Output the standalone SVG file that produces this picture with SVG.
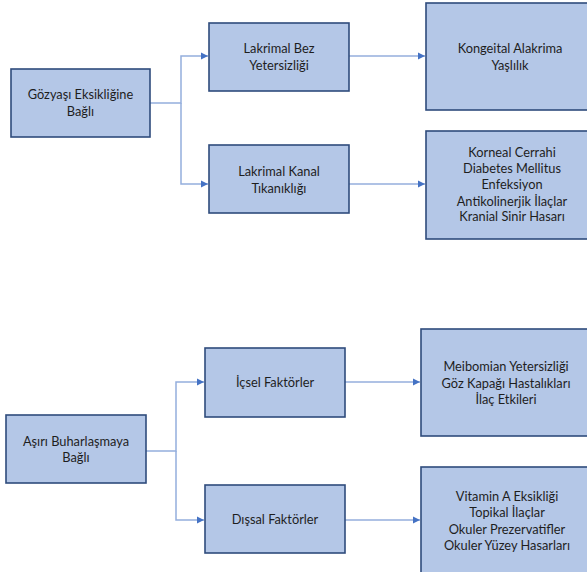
<svg xmlns="http://www.w3.org/2000/svg" width="587" height="572" viewBox="0 0 587 572">
  <style>
    .box { fill: #B4C7E7; stroke: #2F4B7C; stroke-width: 1.6; }
    .lbl { font-family: Lato, "Open Sans", "Liberation Sans", sans-serif; font-size: 12.8px; fill: #1E1E1E; text-anchor: middle; }
    .link { fill: none; stroke: #94AEDD; stroke-width: 1.5; }
  </style>
  <defs>
    <marker id="arrow" markerWidth="8" markerHeight="8" refX="7" refY="4" orient="auto" markerUnits="userSpaceOnUse">
      <path d="M0,0.5 L7,4 L0,7.5 Z" fill="#4472C4"/>
    </marker>
  </defs>

  <rect width="587" height="572" fill="#FFFFFF"/>

  <!-- connectors -->
  <g id="connectors">
    <path class="link" d="M150,103 H181 V56 H208" marker-end="url(#arrow)"/>
    <path class="link" d="M181,103 V184 H208" marker-end="url(#arrow)"/>
    <path class="link" d="M349,56 H425" marker-end="url(#arrow)"/>
    <path class="link" d="M349,184 H425" marker-end="url(#arrow)"/>
    <path class="link" d="M146,451 H176 V382 H204" marker-end="url(#arrow)"/>
    <path class="link" d="M176,451 V520 H204" marker-end="url(#arrow)"/>
    <path class="link" d="M345,382 H420" marker-end="url(#arrow)"/>
    <path class="link" d="M345,520 H420" marker-end="url(#arrow)"/>
  </g>

  <!-- tear deficiency branch -->
  <g id="gozyasi">
    <rect class="box" x="11" y="69" width="139" height="68"/>
    <text class="lbl" x="80.5" y="99">Gözyaşı Eksikliğine</text>
    <text class="lbl" x="80.5" y="116">Bağlı</text>
  </g>
  <g id="lakrimal-bez">
    <rect class="box" x="209" y="23" width="140" height="68"/>
    <text class="lbl" x="279" y="53">Lakrimal Bez</text>
    <text class="lbl" x="279" y="70">Yetersizliği</text>
  </g>
  <g id="lakrimal-kanal">
    <rect class="box" x="209" y="145" width="140" height="68"/>
    <text class="lbl" x="279" y="176">Lakrimal Kanal</text>
    <text class="lbl" x="279" y="193">Tıkanıklığı</text>
  </g>
  <g id="kongeital">
    <rect class="box" x="426" y="3" width="172" height="107"/>
    <text class="lbl" x="510" y="53">Kongeital Alakrima</text>
    <text class="lbl" x="510" y="70">Yaşlılık</text>
  </g>
  <g id="korneal">
    <rect class="box" x="426" y="131" width="172" height="108"/>
    <text class="lbl" x="512" y="157">Korneal Cerrahi</text>
    <text class="lbl" x="512" y="173">Diabetes Mellitus</text>
    <text class="lbl" x="512" y="189">Enfeksiyon</text>
    <text class="lbl" x="512" y="206">Antikolinerjik İlaçlar</text>
    <text class="lbl" x="512" y="221">Kranial Sinir Hasarı</text>
  </g>

  <!-- evaporation branch -->
  <g id="asiri-buharlasma">
    <rect class="box" x="6" y="415" width="140" height="68"/>
    <text class="lbl" x="76" y="446">Aşırı Buharlaşmaya</text>
    <text class="lbl" x="76" y="462">Bağlı</text>
  </g>
  <g id="icsel">
    <rect class="box" x="205" y="348" width="140" height="69"/>
    <text class="lbl" x="275" y="387">İçsel Faktörler</text>
  </g>
  <g id="dissal">
    <rect class="box" x="205" y="485" width="140" height="68"/>
    <text class="lbl" x="275" y="524">Dışsal Faktörler</text>
  </g>
  <g id="meibomian">
    <rect class="box" x="421" y="329" width="172" height="107"/>
    <text class="lbl" x="506" y="371">Meibomian Yetersizliği</text>
    <text class="lbl" x="506" y="388">Göz Kapağı Hastalıkları</text>
    <text class="lbl" x="506" y="404">İlaç Etkileri</text>
  </g>
  <g id="vitamin">
    <rect class="box" x="421" y="467" width="172" height="110"/>
    <text class="lbl" x="507" y="501">Vitamin A Eksikliği</text>
    <text class="lbl" x="507" y="517">Topikal İlaçlar</text>
    <text class="lbl" x="507" y="534">Okuler Prezervatifler</text>
    <text class="lbl" x="507" y="550">Okuler Yüzey Hasarları</text>
  </g>
</svg>
